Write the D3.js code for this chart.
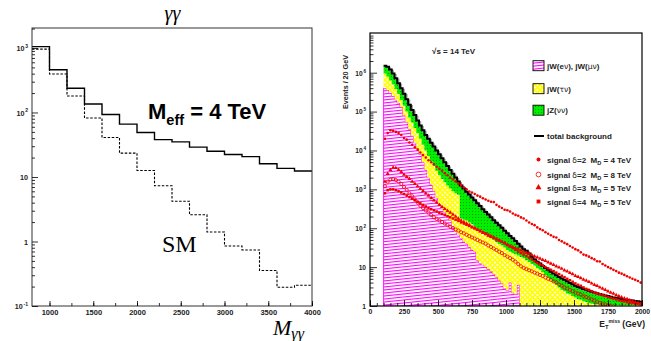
<!DOCTYPE html>
<html><head><meta charset="utf-8">
<script src="https://cdn.jsdelivr.net/npm/d3@7/dist/d3.min.js"></script>
<style>html,body{margin:0;padding:0;background:#fff}svg{display:block}text{white-space:pre}</style>
</head><body>
<svg id="chart" width="651" height="341"></svg>
<script>
// ---------------- Left panel: M_gamma-gamma, 200 GeV bins ----------------
const leftEdges = [800,1000,1200,1400,1600,1800,2000,2200,2400,2600,2800,3000,3200,3400,3600,3800,4000];
const meff4TeV = [1050,460,237,135,93,66,49,38,35,29,25,22.3,20.7,16,13.6,12.4];
const smGG     = [960,395,180,82,41,23.4,12.6,7.3,4.2,2.6,1.4,0.85,0.74,0.355,0.195,0.21];
const leftXTicks = [1000,1500,2000,2500,3000,3500,4000];
const leftXMinor = [1000,1250,1500,1750,2000,2250,2500,2750,3000,3250,3500,3750,4000];
const leftYTicks = [0.1,1,10,100,1000];

// ---------------- Right panel: E_T^miss, 20 GeV bins from 100 to 2000 ----------------
const binStart = d3.range(100, 2000, 20);
const jWemu = [3.98e5,3.55e5,3.02e5,2.51e5,2.0e5,1.66e5,1.32e5,7.94e4,5.25e4,3.55e4,
  2.4e4,1.58e4,1.12e4,7940,5010,3160,2000,1320,891,603,
  417,316,263,209,158,112,83,68,56,45,
  40,33,28,25,15,12.6,11.5,10,8.9,7.9,
  6.6,5.6,4.5,3.8,2.8,2.5,4.0,2.2,2.0,3.5,
  0,0,0,0,0,0,0,0,0,0, 0,0,0,0,0,0,0,0,0,0, 0,0,0,0,0,0,0,0,0,0, 0,0,0,0,0,0,0,0,0,0, 0,0,0,0,0];
const jWtau = [5.57e5,4.39e5,3.29e5,2.5e5,1.8e5,1.16e5,6.8e4,6.2e4,4.75e4,3.53e4,
  2.85e4,2.22e4,1.7e4,1.2e4,9090,6840,5240,4050,3090,2420,
  1920,1540,1250,1050,890,779,711,656,122,121,
  118,108,98,85,85,76,68,59,51,47,
  43,38,35,32,29,25,21,21,19.4,16.5,
  18.2,17,15.1,13.5,12,11,9.5,8.5,7.4,6.3,
  5.5,4.7,4.0,3.5,3.0,2.6,2.4,2.1,2.0,1.8,
  1.66,1.5,1.45,1.32,1.26,1.2,1.15,1.12,1.1,1.1,
  1.08,1.06,1.06,1.06,1.06,1.06,1.06,1.06,1.06,1.06,
  1.06,1.06,1.06,1.06,1.06];
const jZnn = [5.55e5,6.2e5,5.7e5,4.54e5,3.44e5,2.55e5,1.98e5,1.47e5,1.09e5,8.0e4,
  5.75e4,4.33e4,3.07e4,2.37e4,1.9e4,1.51e4,1.28e4,1.04e4,8620,6980,
  5600,4450,3500,2720,2110,1620,1210,860,1080,880,
  713,600,491,415,337,283,230,194,164,136,
  112,94,80,67,55,47,38,32,25.6,20,
  15.8,12,11.2,8.9,6.6,4.8,4.3,3.8,3.3,3.2,
  3.0,2.9,2.9,2.7,2.6,2.5,2.3,2.2,1.9,1.8,
  1.64,1.6,1.5,1.43,1.37,1.25,1.19,1.12,1.04,0.94,
  0.87,0.8,0.76,0.68,0.6,0.56,0.52,0.45,0.42,0.39,
  0.35,0.32,0.29,0.26,0.23];
// signals
const sigD2M4 = [2.0e4,2.8e4,3.3e4,3.2e4,3.0e4,2.8e4,2.5e4,2.1e4,1.9e4,1.6e4,
  1.4e4,1.2e4,1.05e4,8900,7600,6600,5600,5000,4400,3800,
  3400,3000,2600,2300,2000,1800,1600,1400,1300,1120,
  1000,880,830,760,690,650,590,550,510,480,
  470,400,360,330,300,290,270,240,220,210,
  190,178,158,141,128,120,105,95,89,79,
  72,66,60,58,50,46,42,39,35,32,
  29,27,24,21,20,18.6,17,15.8,14.1,14,
  12,11,10,9.3,8.5,7.9,7.2,6.8,6.3,5.8,
  5.4,5.0,4.7,4.4,4.0];
const sigD2M8 = [1200,1580,1780,1820,1740,1580,1380,1150,955,794,
  661,550,457,380,331,288,251,219,191,174,
  158,145,132,120,110,100,93,87,79,74,
  68,63,58,54,50,46,43,40,36,33,
  30,27.5,25,23,20.4,18.6,17,15.5,13.8,12,
  10.5,9.5,8.9,8.3,7.8,7.2,6.8,6.3,5.9,5.4,
  5.0,4.7,4.3,4.0,3.6,3.3,3.0,2.8,2.6,2.4,
  2.2,2.1,1.95,1.82,1.7,1.58,1.48,1.38,1.29,1.2,
  1.15,1.1,1.05,1.03,0,0,0,0,0,0,
  0,0,0,0,0];
const sigD3M5 = [1580,2500,3160,3630,3550,3160,2820,2400,2090,1860,
  1580,1380,1200,1050,910,790,690,600,525,457,
  398,355,316,282,251,224,200,178,158,145,
  132,120,107,100,91,83,76,71,65,60,
  56,51,48,45,42,38,35.5,33,31,29,
  27,25,23.4,21.9,20.4,19,17.8,16.6,15.5,14.5,
  13.2,12.3,11.5,10.5,9.8,9.1,8.3,7.8,7.1,6.6,
  6.0,5.6,5.2,4.8,4.5,4.2,3.8,3.5,3.3,3.0,
  2.8,2.6,2.4,2.2,2.1,1.9,1.8,1.66,1.58,1.51,
  1.41,1.32,1.26,1.2,1.12];
const sigD4M5 = [794,955,1000,1000,955,891,832,759,692,631,
  575,525,479,437,398,363,331,309,288,269,
  251,234,219,204,191,178,166,155,141,132,
  123,115,107,100,93,85,79,74,68,63,
  58,54,49,45,41,37,34,31,28,25,
  23,21,19,17.4,15.8,14.1,12.9,11.7,11,10,
  9.3,8.5,7.9,7.2,6.6,6.0,5.5,5.0,4.6,4.2,
  3.8,3.5,3.3,3.0,2.75,2.6,2.4,2.2,2.1,2.0,
  1.9,1.82,1.7,1.62,1.55,1.48,1.41,1.35,1.32,1.26,
  1.23,1.2,1.17,1.15,1.12];
const rightXTicks = [0,250,500,750,1000,1250,1500,1750,2000];
const rightYTicks = [1,10,100,1000,1e4,1e5,1e6];
const bgLabels = ["jW(eν), jW(μν)", "jW(τν)", "jZ(νν)", "total background"];
const sigLabels = ["signal δ=2  M_D = 4 TeV", "signal δ=2  M_D = 8 TeV", "signal δ=3  M_D = 5 TeV", "signal δ=4  M_D = 5 TeV"];

// ---------------- drawing ----------------
const SANS = "'Liberation Sans', Arial, Helvetica, sans-serif";
const SERIF = "'Liberation Serif', 'Times New Roman', serif";
const svg = d3.select("#chart");
const defs = svg.append("defs");

// patterns
const pm = defs.append("pattern").attr("id","pm").attr("patternUnits","userSpaceOnUse")
  .attr("width",8).attr("height",3).attr("patternTransform","rotate(-6)");
pm.append("rect").attr("width",8).attr("height",3).attr("fill","#fff");
pm.append("rect").attr("y",1).attr("width",8).attr("height",1.1).attr("fill","#ff00ff");
const py = defs.append("pattern").attr("id","py").attr("patternUnits","userSpaceOnUse")
  .attr("width",5).attr("height",5);
py.append("rect").attr("width",5).attr("height",5).attr("fill","#fff");
py.append("path").attr("d","M0,0L5,5M5,0L0,5").attr("stroke","#ffff00").attr("stroke-width",1.7);
const pg = defs.append("pattern").attr("id","pg").attr("patternUnits","userSpaceOnUse")
  .attr("width",3).attr("height",3);
pg.append("rect").attr("width",3).attr("height",3).attr("fill","#00f000");
pg.append("rect").attr("x",1).attr("y",1).attr("width",1).attr("height",1).attr("fill","#009a00");

function addLogLabels(axisG, fs, gap){
  axisG.selectAll(".tick").each(function(v){
    const e = Math.round(Math.log10(v));
    const t = d3.select(this).append("text").attr("x",-gap).attr("dy","0.35em")
      .attr("text-anchor","end").attr("fill","#222").attr("font-size",fs)
      .attr("font-weight","bold").attr("font-family",SANS);
    if (e === 0) t.text("1");
    else if (e === 1) t.text("10");
    else {
      t.append("tspan").text("10");
      t.append("tspan").attr("dx",0.8).attr("dy",-fs*0.45).attr("font-size",fs*0.7).text(e);
    }
  });
}
function minorLog(lo, hi){
  const out = [];
  for (let d = lo; d < hi; d *= 10) for (let k = 2; k <= 9; k++) if (d*k <= hi) out.push(d*k);
  return out;
}
function styleAxis(g, fs){
  g.select(".domain").remove();
  g.selectAll("line").attr("stroke","#000").attr("stroke-width",0.8);
  g.selectAll("text").attr("font-size",fs).attr("font-weight","bold").attr("font-family",SANS).attr("fill","#222");
}

// ===== LEFT PANEL =====
const xL = d3.scaleLinear().domain([800,4000]).range([32,312]);
const yL = d3.scaleLog().domain([0.1,2040]).range([306,28]).clamp(true);
const stepL = d3.line().curve(d3.curveStepAfter).x(d=>xL(d.x)).y(d=>yL(d.v));
function histPts(edges, vals){
  const p = vals.map((v,i)=>({x:edges[i], v}));
  p.push({x:edges[edges.length-1], v:vals[vals.length-1]});
  return p;
}
const gL = svg.append("g");
gL.append("path").attr("d", stepL(histPts(leftEdges, smGG))).attr("fill","none")
  .attr("stroke","#000").attr("stroke-width",1.1).attr("stroke-dasharray","2.5,1.6");
gL.append("path").attr("d", stepL(histPts(leftEdges, meff4TeV))).attr("fill","none")
  .attr("stroke","#000").attr("stroke-width",1.4);
gL.append("rect").attr("x",32).attr("y",28).attr("width",280).attr("height",278)
  .attr("fill","none").attr("stroke","#333").attr("stroke-width",1);
// axes
gL.append("g").attr("transform","translate(0,306)")
  .call(d3.axisBottom(xL).tickValues(leftXMinor).tickSize(-3).tickFormat(""))
  .call(g=>styleAxis(g,7.5));
gL.append("g").attr("transform","translate(0,306)")
  .call(d3.axisBottom(xL).tickValues(leftXTicks).tickSize(-5).tickPadding(4).tickFormat(d3.format("d")))
  .call(g=>styleAxis(g,7.5));
gL.append("g").attr("transform","translate(32,0)")
  .call(d3.axisLeft(yL).tickValues(minorLog(0.1,2040)).tickSize(-3).tickFormat(""))
  .call(g=>styleAxis(g,7));
const yLax = gL.append("g").attr("transform","translate(32,0)")
  .call(d3.axisLeft(yL).tickValues(leftYTicks).tickSize(-6).tickFormat(()=>""))
  .call(g=>styleAxis(g,7));
addLogLabels(yLax, 7.2, 4);
// texts
gL.append("text").attr("x",172.5).attr("y",19.5).attr("text-anchor","middle")
  .attr("font-family",SERIF).attr("font-style","italic").attr("font-size",20).text("γγ");
const me = gL.append("text").attr("x",148).attr("y",119).attr("font-family",SANS)
  .attr("font-weight","bold").attr("font-size",22);
me.append("tspan").text("M");
me.append("tspan").attr("font-size",14.5).attr("dy",6).text("eff");
me.append("tspan").attr("dy",-6).text(" = 4 TeV");
gL.append("text").attr("x",162).attr("y",252).attr("font-family",SERIF).attr("font-size",24).text("SM");
const mg = gL.append("text").attr("x",273).attr("y",335).attr("font-family",SERIF)
  .attr("font-style","italic").attr("font-size",22);
mg.append("tspan").text("M");
mg.append("tspan").attr("font-size",16).attr("dy",4).text("γγ");

// ===== RIGHT PANEL =====
const xR = d3.scaleLinear().domain([0,2000]).range([370,642]);
const yR = d3.scaleLog().domain([1,1.05e7]).range([306,33]).clamp(true);
const fy = v => (v < 1 ? yR(1) : yR(v));
defs.append("clipPath").attr("id","clipR").append("rect")
  .attr("x",370).attr("y",33).attr("width",272).attr("height",273);
const gR = svg.append("g");
const plotR = gR.append("g").attr("clip-path","url(#clipR)");

const rows = binStart.map((e,i)=>({e, jWemu:jWemu[i], jWtau:jWtau[i], jZnn:jZnn[i]}));
const stacked = d3.stack().keys(["jWemu","jWtau","jZnn"])(rows);
const areaR = d3.area().curve(d3.curveStepAfter).x(d=>xR(d.e)).y0(d=>fy(d.y0)).y1(d=>fy(d.y1));
const fills = {jWemu:"url(#pm)", jWtau:"url(#py)", jZnn:"url(#pg)"};
stacked.forEach(layer=>{
  const pts = layer.map((d,i)=>({e:binStart[i], y0:d[0], y1:d[1]}));
  pts.push({e:2000, y0:pts[pts.length-1].y0, y1:pts[pts.length-1].y1});
  const p = plotR.append("path").attr("d", areaR(pts)).attr("fill", fills[layer.key]);
  if (layer.key === "jWemu") p.attr("stroke","#ff00ff").attr("stroke-width",0.9);
});
// total background
const tot = rows.map(r=>({e:r.e, v:r.jWemu + r.jWtau + r.jZnn}));
tot.push({e:2000, v:tot[tot.length-1].v});
const lineR = d3.line().curve(d3.curveStepAfter).x(d=>xR(d.e)).y(d=>fy(d.v));
plotR.append("path").attr("d", lineR(tot)).attr("fill","none").attr("stroke","#a0a0a0")
  .attr("stroke-width",1.6).attr("transform","translate(1.4,1.2)");
plotR.append("path").attr("d", lineR(tot)).attr("fill","none").attr("stroke","#000").attr("stroke-width",2);

// signal markers
const RED = "#f20000";
const sigSeries = [
  {vals:sigD2M4, type:"fcircle"}, {vals:sigD2M8, type:"ocircle"},
  {vals:sigD3M5, type:"triangle"}, {vals:sigD4M5, type:"square"}];
function drawMarker(g, type, x, y, scale){
  const s = scale || 1;
  if (type === "fcircle") g.append("circle").attr("cx",x).attr("cy",y).attr("r",1.3*s).attr("fill",RED);
  else if (type === "ocircle") g.append("circle").attr("cx",x).attr("cy",y).attr("r",1.6*s)
    .attr("fill","none").attr("stroke",RED).attr("stroke-width",0.8);
  else if (type === "triangle") g.append("path").attr("transform",`translate(${x},${y})`)
    .attr("d", d3.symbol(d3.symbolTriangle, 7*s*s)()).attr("fill",RED);
  else g.append("path").attr("transform",`translate(${x},${y})`)
    .attr("d", d3.symbol(d3.symbolSquare, 6.5*s*s)()).attr("fill",RED);
}
sigSeries.forEach(s=>{
  s.vals.forEach((v,i)=>{ if (v >= 1) drawMarker(plotR, s.type, xR(binStart[i]+10), yR(v)); });
});

// frame and axes
gR.append("rect").attr("x",370).attr("y",33).attr("width",272).attr("height",273)
  .attr("fill","none").attr("stroke","#000").attr("stroke-width",1.2);
gR.append("g").attr("transform","translate(0,306)")
  .call(d3.axisBottom(xR).tickValues(d3.range(0,2001,50)).tickSize(-3).tickFormat(""))
  .call(g=>styleAxis(g,7));
gR.append("g").attr("transform","translate(0,306)")
  .call(d3.axisBottom(xR).tickValues(rightXTicks).tickSize(-6).tickPadding(3).tickFormat(d3.format("d")))
  .call(g=>styleAxis(g,6.8));
gR.append("g").attr("transform","translate(370,0)")
  .call(d3.axisLeft(yR).tickValues(minorLog(1,1.05e7)).tickSize(-3.5).tickFormat(""))
  .call(g=>styleAxis(g,7));
const yRax = gR.append("g").attr("transform","translate(370,0)")
  .call(d3.axisLeft(yR).tickValues(rightYTicks).tickSize(-7).tickFormat(()=>""))
  .call(g=>styleAxis(g,7));
addLogLabels(yRax, 6.6, 4);

// axis titles
gR.append("text").attr("transform","translate(347.5,55) rotate(-90)").attr("text-anchor","end")
  .attr("font-family",SANS).attr("font-weight","bold").attr("font-size",7.2).attr("fill","#222")
  .text("Events / 20 GeV");
const xt = gR.append("text").attr("x",645).attr("y",327).attr("text-anchor","end")
  .attr("font-family",SANS).attr("font-weight","bold").attr("font-size",8.5).attr("fill","#222");
xt.append("tspan").text("E");
xt.append("tspan").attr("font-size",5.8).attr("dy",2).text("T");
xt.append("tspan").attr("font-size",5).attr("dy",-6).text("miss");
xt.append("tspan").attr("dy",4).text(" (GeV)");
gR.append("text").attr("x",432).attr("y",54).attr("font-family",SANS).attr("font-weight","bold")
  .attr("font-size",8).attr("fill","#222").text("√s = 14 TeV");

// legend
function richText(t, str, fs){
  let shifted = false;
  str.split(/([νμτδ]+|_D)/).filter(s=>s.length).forEach(s=>{
    if (s === "_D") {
      t.append("tspan").attr("font-size",fs*0.7).attr("dy",fs*0.3).text("D");
      shifted = true;
    } else {
      const sp = t.append("tspan").text(s);
      if (shifted) { sp.attr("dy",-fs*0.3); shifted = false; }
      if (/^[νμτδ]+$/.test(s)) sp.attr("font-weight","normal").attr("font-family","'DejaVu Sans', sans-serif").attr("font-size",fs*0.95);
    }
  });
}
const LFS = 8;
const boxY = [65.7, 88.7, 110.2];
const boxFill = ["url(#pm)","url(#py)","url(#pg)"];
boxY.forEach((y,i)=>{
  gR.append("rect").attr("x",533).attr("y",y-5).attr("width",11).attr("height",10)
    .attr("fill",boxFill[i]).attr("stroke","#000").attr("stroke-width",0.9);
  const t = gR.append("text").attr("x",547).attr("y",y+3).attr("font-family",SANS)
    .attr("font-weight","bold").attr("font-size",LFS).attr("fill","#222");
  richText(t, bgLabels[i], LFS);
});
gR.append("line").attr("x1",534).attr("x2",544).attr("y1",136).attr("y2",136)
  .attr("stroke","#000").attr("stroke-width",2);
richText(gR.append("text").attr("x",547).attr("y",139).attr("font-family",SANS)
  .attr("font-weight","bold").attr("font-size",LFS).attr("fill","#222"), bgLabels[3], LFS);
const sigY = [159.5, 174.5, 187.5, 201.5];
sigY.forEach((y,i)=>{
  drawMarker(gR, sigSeries[i].type, 538.5, y, 1.5);
  richText(gR.append("text").attr("x",547).attr("y",y+3).attr("font-family",SANS)
    .attr("font-weight","bold").attr("font-size",LFS).attr("fill","#222"), sigLabels[i], LFS);
});
</script>
</body></html>
